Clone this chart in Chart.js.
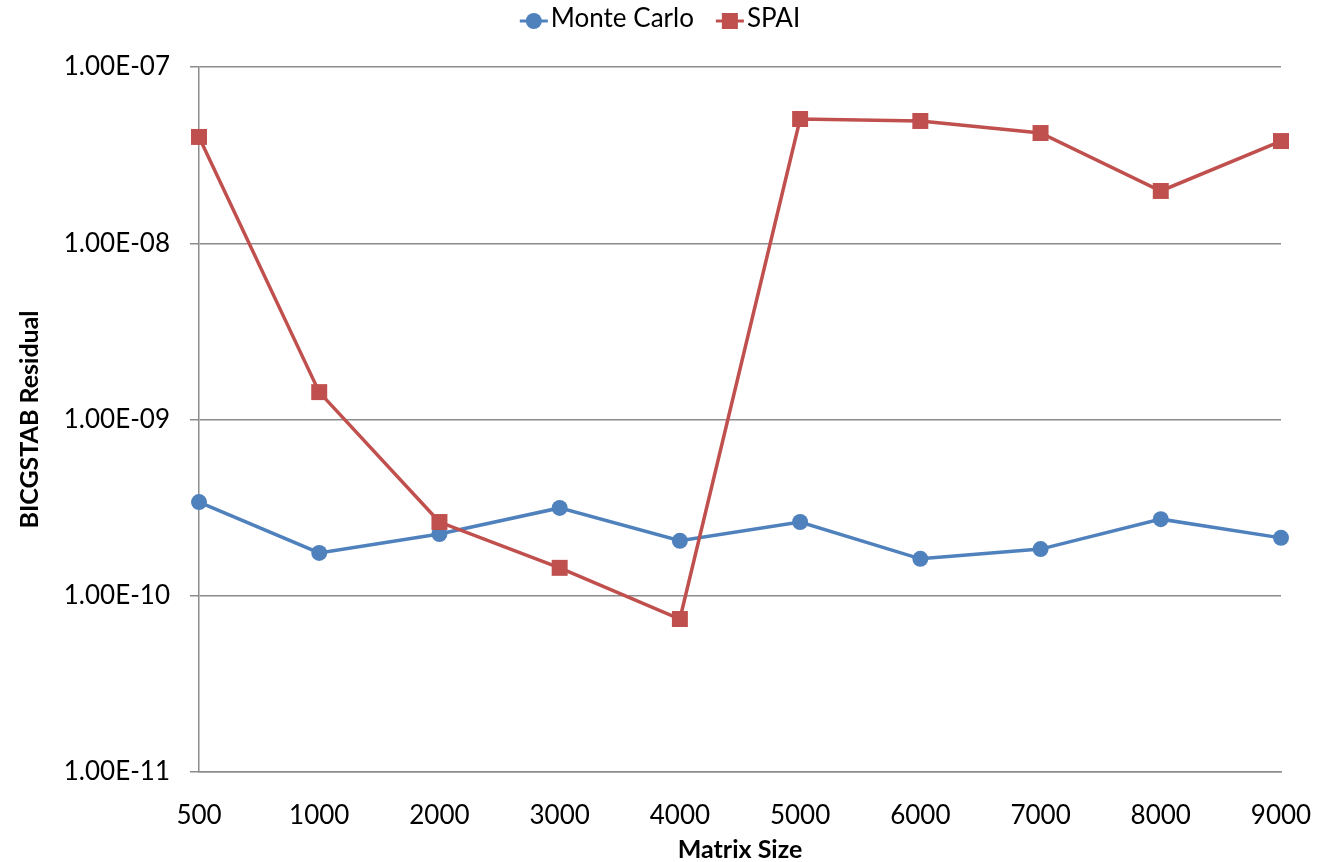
<!DOCTYPE html>
<html>
<head>
<meta charset="utf-8">
<title>BICGSTAB Residual vs Matrix Size</title>
<script src="https://cdn.jsdelivr.net/npm/chart.js@4/dist/chart.umd.min.js"></script>
<style>
  html, body { margin: 0; padding: 0; background: #ffffff; }
  #wrap { width: 1324px; height: 862px; position: relative; }
</style>
</head>
<body>
<div id="wrap"><canvas id="chart" width="1324" height="862"></canvas></div>
<script>
// Matrix sizes along the x axis
const matrixSizes = ['500', '1000', '2000', '3000', '4000', '5000', '6000', '7000', '8000', '9000'];

// Final BICGSTAB residual for each preconditioner
const monteCarlo = [3.40e-10, 1.75e-10, 2.24e-10, 3.15e-10, 2.05e-10, 2.62e-10, 1.62e-10, 1.84e-10, 2.72e-10, 2.13e-10];
const spai = [4.01e-8, 1.43e-9, 2.62e-10, 1.44e-10, 7.38e-11, 5.07e-8, 4.94e-8, 4.22e-8, 1.98e-8, 3.80e-8];

// Decade ticks on the residual axis
const yTicks = [1e-11, 1e-10, 1e-9, 1e-8, 1e-7];

const FONT = 'Lato, "Open Sans", "Liberation Sans", sans-serif';
const BLUE = '#4F81BD';
const RED = '#C0504D';
const GRID = '#8c8c8c';

// Excel-style scientific label, e.g. 1.00E-07
function sciLabel(v) {
  const s = Number(v).toExponential(2).toUpperCase();
  const m = s.match(/^([\d.]+)E([+-])(\d+)$/);
  if (!m) return s;
  const exp = m[3].length < 2 ? '0' + m[3] : m[3];
  return m[1] + 'E' + m[2] + exp;
}

// Legend drawn as a line segment through the series marker, followed by the name
const lineLegend = {
  id: 'lineLegend',
  afterDraw(chart) {
    const ctx = chart.ctx;
    const y = 21;
    const lineLen = 28;
    const gap = 3;
    const spacing = 22;
    ctx.save();
    ctx.font = '26px ' + FONT;
    const items = chart.data.datasets.map(ds => ({
      ds,
      w: lineLen + gap + ctx.measureText(ds.label).width
    }));
    const total = items.reduce((a, it) => a + it.w, 0) + spacing * (items.length - 1);
    let x = 660 - total / 2;
    items.forEach(it => {
      const ds = it.ds;
      ctx.strokeStyle = ds.borderColor;
      ctx.lineWidth = 3;
      ctx.beginPath();
      ctx.moveTo(x, y);
      ctx.lineTo(x + lineLen, y);
      ctx.stroke();
      ctx.fillStyle = ds.pointBackgroundColor;
      const cx = x + lineLen / 2;
      if (ds.pointStyle === 'rect') {
        ctx.fillRect(cx - 8, y - 8, 16, 16);
      } else {
        ctx.beginPath();
        ctx.arc(cx, y, 8, 0, Math.PI * 2);
        ctx.fill();
      }
      ctx.fillStyle = '#000000';
      ctx.textBaseline = 'middle';
      ctx.textAlign = 'left';
      ctx.fillText(ds.label, x + lineLen + gap, y - 2);
      x += it.w + spacing;
    });
    ctx.restore();
  }
};

new Chart(document.getElementById('chart'), {
  type: 'line',
  data: {
    labels: matrixSizes,
    datasets: [
      {
        label: 'Monte Carlo',
        data: monteCarlo,
        borderColor: BLUE,
        backgroundColor: BLUE,
        pointBackgroundColor: BLUE,
        pointBorderColor: BLUE,
        pointStyle: 'circle',
        pointRadius: 8,
        pointBorderWidth: 0,
        borderWidth: 3.5,
        tension: 0,
        clip: false,
        order: 1
      },
      {
        label: 'SPAI',
        data: spai,
        borderColor: RED,
        backgroundColor: RED,
        pointBackgroundColor: RED,
        pointBorderColor: RED,
        pointStyle: 'rect',
        pointRadius: 11.3,
        pointBorderWidth: 0,
        borderWidth: 3.5,
        tension: 0,
        clip: false,
        order: 0
      }
    ]
  },
  options: {
    responsive: false,
    animation: false,
    devicePixelRatio: 1,
    layout: { padding: { top: 67, right: 43, bottom: 0, left: 0 } },
    plugins: {
      legend: { display: false },
      tooltip: { enabled: false }
    },
    scales: {
      x: {
        type: 'category',
        offset: false,
        grid: { display: false },
        border: { display: true, color: GRID, width: 1.5 },
        ticks: {
          color: '#000000',
          font: { family: FONT, size: 26 },
          padding: 20,
          maxRotation: 0,
          autoSkip: false
        },
        title: {
          display: true,
          text: 'Matrix Size',
          color: '#000000',
          font: { family: FONT, size: 25, weight: 'bold', lineHeight: 1 },
          padding: { top: 0, bottom: 0 }
        },
        afterFit(scale) {
          scale.height = 90;
          scale.paddingLeft = 0;
          scale.paddingRight = 0;
        }
      },
      y: {
        type: 'logarithmic',
        min: 1e-11,
        max: 1e-7,
        grid: {
          color: GRID,
          lineWidth: 1.5,
          drawTicks: true,
          tickLength: 9
        },
        border: { display: true, color: GRID, width: 1.5 },
        ticks: {
          color: '#000000',
          font: { family: FONT, size: 26 },
          padding: 20,
          callback: v => sciLabel(v)
        },
        afterBuildTicks(scale) {
          scale.ticks = yTicks.map(v => ({ value: v, major: true }));
        },
        title: {
          display: true,
          text: 'BICGSTAB Residual',
          color: '#000000',
          font: { family: FONT, size: 25, weight: 'bold', lineHeight: 1.2 },
          padding: { top: 15, bottom: 0 }
        },
        afterFit(scale) { scale.width = 199; }
      }
    }
  },
  plugins: [lineLegend]
});
</script>
</body>
</html>
